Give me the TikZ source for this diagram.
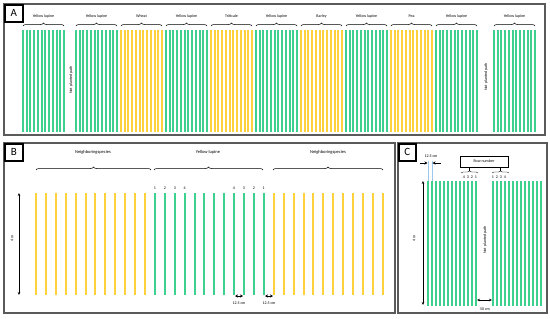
\documentclass[tikz,border=0pt]{standalone}
\usepackage{fontspec}
\setmainfont{Carlito}
\usetikzlibrary{decorations.pathreplacing,arrows.meta}

\definecolor{lupine}{HTML}{3DD08F}
\definecolor{cereal}{HTML}{FFD13D}
\definecolor{frameg}{HTML}{5A5A5A}
\definecolor{extblue}{HTML}{9CC8EE}

\tikzset{
  panel/.style={draw=frameg,line width=1.1pt},
  tag/.style={draw=black,line width=1.5pt,fill=white,inner sep=0pt,anchor=north west,
    minimum width=18pt,minimum height=17pt,font=\fontsize{11}{11}\selectfont},
  tiny/.style={inner sep=0pt,font=\fontsize{4}{4}\selectfont},
  small/.style={inner sep=0pt,font=\fontsize{4.5}{4.5}\selectfont},
  brc/.style={decorate,decoration={brace,amplitude=3pt},line width=0.5pt},
  sbrc/.style={decorate,decoration={brace,amplitude=2pt},line width=0.4pt},
  rowA/.style={line width=1.6pt},
  rowB/.style={line width=1.6pt},
  dim/.style={{Stealth[length=3pt,width=2.5pt]}-{Stealth[length=3pt,width=2.5pt]},line width=0.5pt},
  sdim/.style={{Stealth[length=3pt,width=3pt]}-{Stealth[length=3pt,width=3pt]},line width=0.5pt},
}

\begin{document}
\begin{tikzpicture}[x=1pt,y=-1pt]
\useasboundingbox (0,0) rectangle (550,319);

% panel A
\draw[panel] (4,4) rectangle (545,135);
\foreach \sx/\col/\lab [count=\k] in {23/lupine/Yellow lupine,76/lupine/Yellow lupine,
    121/cereal/Wheat,166/lupine/Yellow lupine,211/cereal/Triticale,256/lupine/Yellow lupine,
    301/cereal/Barley,346/lupine/Yellow lupine,391/cereal/Pea,436/lupine/Yellow lupine,
    494/lupine/Yellow lupine}{
  \foreach \i in {0,...,11}{
    \pgfmathsetmacro{\xx}{round(\sx+3.73*\i)}
    \draw[rowA,\col] (\xx,30) -- (\xx,132);
  }
  \draw[brc] (\sx,26) -- (\sx+41,26);
  \node[tiny] (labA\k) at (\sx+20.5,16) {\lab};
}
\node[tiny,rotate=90] (pathA1) at (71,80) {Not planted path};
\node[tiny,rotate=90] (pathA2) at (486,77) {Not planted path};
\node[tag] (tagA) at (4,4) {A};

% panel B
\draw[panel] (4,143) rectangle (395,313);
\foreach \i in {0,...,35}{
  \pgfmathsetmacro{\xx}{round(36+9.91*\i)}
  \ifnum\i<12 \def\col{cereal}\else\ifnum\i<24 \def\col{lupine}\else\def\col{cereal}\fi\fi
  \draw[rowB,\col] (\xx,193) -- (\xx,295);
}
\draw[brc] (36,170) -- (151,170);
\draw[brc] (154,170) -- (263,170);
\draw[brc] (273,170) -- (383,170);
\node[small] (nbL) at (93,152) {Neighboringspecies};
\node[small] (ylB) at (208,152) {Yellow lupine};
\node[small] (nbR) at (328,152) {Neighboringspecies};
\foreach \n [count=\j from 0] in {1,2,3,4}
  \node[tiny] (numL\n) at (155+9.91*\j,188) {\n};
\foreach \n [count=\j from 0] in {4,3,2,1}
  \node[tiny] (numR\n) at (234+9.91*\j,188) {\n};
\coordinate (bTop) at (19,193);
\coordinate (bBot) at (19,295);
\draw[dim] (bTop) -- (bBot);
\node[tiny,rotate=90] (fourB) at (12,238) {4 m};
\coordinate (d1a) at (235,296);
\coordinate (d1b) at (243,296);
\coordinate (d2a) at (265,296);
\coordinate (d2b) at (273,296);
\draw[sdim] (d1a) -- (d1b);
\draw[sdim] (d2a) -- (d2b);
\node[tiny] (cmB1) at (239,303) {12.5 cm};
\node[tiny] (cmB2) at (269,303) {12.5 cm};
\node[tag] (tagB) at (4,143) {B};

% panel C
\draw[panel] (398,143) rectangle (547,313);
\draw[extblue,line width=0.8pt] (428,161) -- (428,181) (432,161) -- (432,181);
\foreach \i in {0,...,12}{
  \draw[rowB,lupine] (428+4*\i,181) -- (428+4*\i,306);
  \draw[rowB,lupine] (493+4*\i,181) -- (493+4*\i,306);
}
\draw[-{Stealth[length=3pt,width=3pt]},line width=0.5pt] (420,163) -- (427.5,163);
\draw[-{Stealth[length=3pt,width=3pt]},line width=0.5pt] (441,163) -- (432.5,163);
\node[tiny] (cmC) at (431,156) {12.5 cm};
\node[draw,line width=0.5pt,minimum width=48pt,minimum height=11pt,inner sep=0pt,
  font=\fontsize{4}{4}\selectfont] (rownum) at (484,161.5) {Row number};
\draw[sbrc] (461,173) -- (478,173);
\draw[sbrc] (492,173) -- (509,173);
\draw[line width=0.4pt] (469.5,171) -- (rownum.south -| 469.5,0);
\draw[line width=0.4pt] (500.5,171) -- (rownum.south -| 500.5,0);
\foreach \n [count=\j from 0] in {4,3,2,1}
  \node[tiny] (cnL\n) at (464+4*\j,177.5) {\n};
\foreach \n [count=\j from 0] in {1,2,3,4}
  \node[tiny] (cnR\n) at (493+4*\j,177.5) {\n};
\coordinate (cTop) at (423,181);
\coordinate (cBot) at (423,305);
\draw[dim] (cTop) -- (cBot);
\node[tiny,rotate=90] (fourC) at (414,238) {4 m};
\node[tiny,rotate=90] (pathC) at (485,240) {Not planted path};
\coordinate (gapL) at (477,300);
\coordinate (gapR) at (492,300);
\draw[dim] (gapL) -- (gapR);
\node[tiny] (fiftyC) at (485,309.5) {50 cm};
\node[tag,minimum width=17pt] (tagC) at (398,143) {C};
\end{tikzpicture}
\end{document}
